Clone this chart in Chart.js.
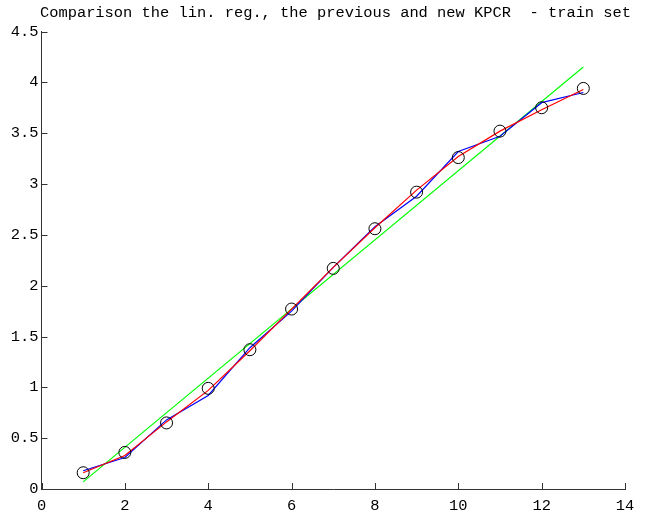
<!DOCTYPE html>
<html>
<head>
<meta charset="utf-8">
<script src="https://cdn.jsdelivr.net/npm/chart.js@4"></script>
<style>
  body { margin: 0; background: #fff; }
  canvas { display: block; }
</style>
</head>
<body>
<canvas id="myChart" width="650" height="518"></canvas>
<script>
const ctx = document.getElementById('myChart');

// sample index
const xs = [1, 2, 3, 4, 5, 6, 7, 8, 9, 10, 11, 12, 13];
// measured values (circles)
const measured = [0.16, 0.36, 0.65, 0.99, 1.37, 1.77, 2.17, 2.56, 2.92, 3.26, 3.52, 3.75, 3.94];
// previous KPCR (blue)
const prevKpcr = [0.18, 0.31, 0.68, 0.92, 1.39, 1.75, 2.18, 2.58, 2.88, 3.32, 3.47, 3.80, 3.90];
// new KPCR (red)
const newKpcr = [0.16, 0.33, 0.66, 0.97, 1.36, 1.77, 2.18, 2.57, 2.94, 3.27, 3.52, 3.73, 3.93];
// linear regression (green), end points
const linRegX = [1, 13];
const linRegY = [0.07, 4.15];

const titleText = 'Comparison the lin. reg., the previous and new KPCR  - train set';
const monoFont = 'Liberation Mono';

function pts(x, y) {
    return x.map((v, i) => ({x: v, y: y[i]}));
}

// matlab-like title + inward tick marks
const matlabAxes = {
    id: 'matlabAxes',
    afterDraw(chart) {
        const c = chart.ctx;
        const area = chart.chartArea;
        const sx = chart.scales.x, sy = chart.scales.y;
        c.save();
        c.strokeStyle = '#333';
        c.lineWidth = 1;
        c.beginPath();
        sx.ticks.forEach(t => {
            const px = Math.round(sx.getPixelForValue(t.value)) + 0.5;
            c.moveTo(px, area.bottom);
            c.lineTo(px, area.bottom - 6);
        });
        sy.ticks.forEach(t => {
            const py = Math.round(sy.getPixelForValue(t.value)) + 0.5;
            c.moveTo(area.left, py);
            c.lineTo(area.left + 6, py);
        });
        c.stroke();
        c.fillStyle = '#000';
        c.font = '15.4px "' + monoFont + '"';
        c.textAlign = 'center';
        c.textBaseline = 'middle';
        c.fillText(titleText, 335.5, 12.5);
        c.restore();
    }
};

new Chart(ctx, {
    type: 'scatter',
    data: {
        datasets: [{
            label: 'measured',
            data: pts(xs, measured),
            showLine: false,
            pointRadius: 6,
            pointBorderWidth: 1,
            pointBorderColor: '#000',
            pointBackgroundColor: 'rgba(0,0,0,0)',
            order: 0
        }, {
            label: 'new KPCR',
            data: pts(xs, newKpcr),
            showLine: true,
            borderColor: '#ff0000',
            borderWidth: 1.2,
            pointRadius: 0,
            order: 1
        }, {
            label: 'previous KPCR',
            data: pts(xs, prevKpcr),
            showLine: true,
            borderColor: '#0000ff',
            borderWidth: 1.2,
            pointRadius: 0,
            order: 2
        }, {
            label: 'lin. reg.',
            data: pts(linRegX, linRegY),
            showLine: true,
            borderColor: '#00ff00',
            borderWidth: 1.2,
            pointRadius: 0,
            order: 3
        }]
    },
    options: {
        responsive: false,
        animation: false,
        layout: { padding: { top: 31.5, right: 25, left: 0, bottom: 0 } },
        plugins: {
            legend: { display: false },
            tooltip: { enabled: false },
            title: { display: false }
        },
        scales: {
            x: {
                type: 'linear',
                min: 0,
                max: 14,
                ticks: {
                    stepSize: 2,
                    padding: 8,
                    color: '#000',
                    font: { family: monoFont, size: 15.4 },
                    maxRotation: 0,
                    callback: v => String(v)
                },
                grid: { display: false, drawTicks: false },
                border: { display: true, color: '#333', width: 1 },
                afterFit(scale) { scale.height = 29; }
            },
            y: {
                type: 'linear',
                min: 0,
                max: 4.5,
                ticks: {
                    stepSize: 0.5,
                    padding: 3,
                    color: '#000',
                    font: { family: monoFont, size: 15.4 },
                    callback: v => String(v)
                },
                grid: { display: false, drawTicks: false },
                border: { display: true, color: '#333', width: 1 },
                afterFit(scale) { scale.width = 41.5; }
            }
        }
    },
    plugins: [matlabAxes]
});
</script>
</body>
</html>
